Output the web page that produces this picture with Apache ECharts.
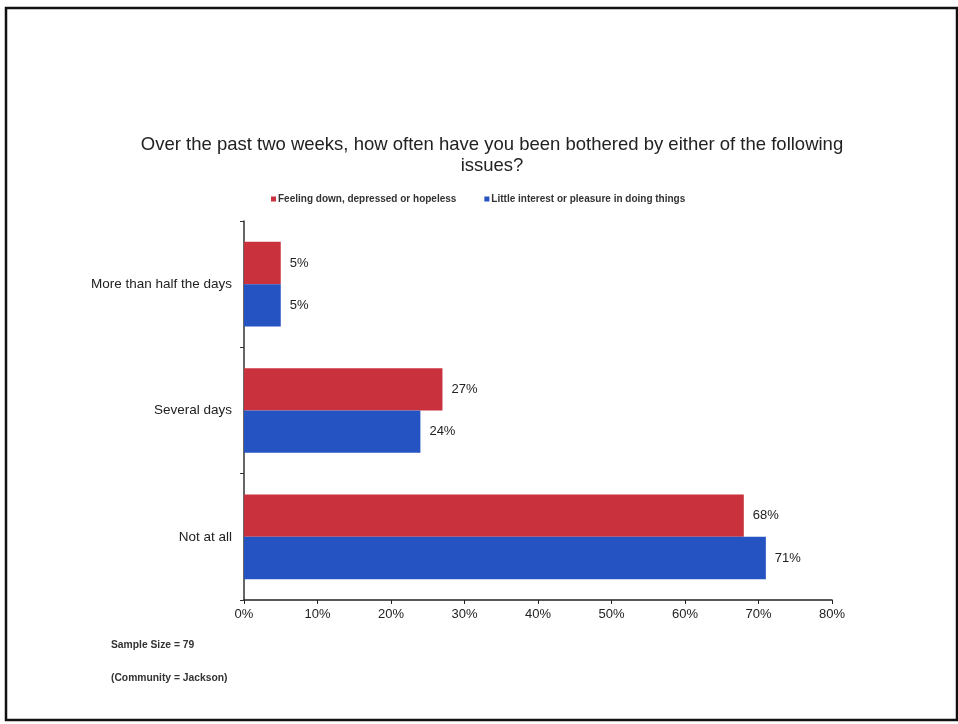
<!DOCTYPE html>
<html>
<head>
<meta charset="utf-8">
<script src="https://cdn.jsdelivr.net/npm/echarts@6/dist/echarts.min.js"></script>
<style>html,body{margin:0;padding:0;background:#fff;}#c{width:958px;height:724px;}</style>
</head>
<body>
<div id="c"></div>
<script>
const categories = ['Not at all', 'Several days', 'More than half the days'];
const seriesNames = ['Feeling down, depressed or hopeless', 'Little interest or pleasure in doing things'];
const feelingDown = [68, 27, 5];
const littleInterest = [71, 24, 5];
const xTicks = { min: 0, max: 80, interval: 10 };
const notes = ['Sample Size = 79', '(Community = Jackson)'];

const chart = echarts.init(document.getElementById('c'), null, { renderer: 'canvas' });
const font = 'Liberation Sans, Arial, sans-serif';
const labelCfg = { show: true, position: 'right', distance: 9, formatter: '{c}%', fontFamily: font, fontSize: 13, color: '#222' };
chart.setOption({
  animation: false,
  backgroundColor: '#fff',
  title: {
    text: 'Over the past two weeks, how often have you been bothered by either of the following\nissues?',
    left: 487, top: 129, textAlign: 'center',
    textStyle: { fontFamily: font, fontSize: 18.5, fontWeight: 'normal', color: '#222', lineHeight: 21 }
  },
  legend: {
    data: seriesNames,
    top: 189, left: 266,
    icon: 'rect', itemWidth: 5, itemHeight: 5, itemGap: 28,
    textStyle: { fontFamily: font, fontSize: 10, fontWeight: 'bold', color: '#333', padding: [0, 0, 0, -3] }
  },
  grid: { left: 244, right: 126, top: 221, bottom: 124, containLabel: false },
  xAxis: {
    type: 'value', min: xTicks.min, max: xTicks.max, interval: xTicks.interval,
    axisLine: { show: true, lineStyle: { color: '#222', width: 1.5 } },
    axisTick: { show: true, length: 4, lineStyle: { color: '#222' } },
    splitLine: { show: false },
    axisLabel: { formatter: '{value}%', fontFamily: font, fontSize: 13, color: '#222', margin: 8 }
  },
  yAxis: {
    type: 'category', data: categories,
    axisLine: { show: true, lineStyle: { color: '#333', width: 1.5 } },
    axisTick: { show: true, length: 4, lineStyle: { color: '#333' } },
    axisLabel: { fontFamily: font, fontSize: 13.5, color: '#222', margin: 12 }
  },
  series: [
    { name: seriesNames[0], type: 'bar', data: feelingDown, itemStyle: { color: '#c9323c' }, barGap: '0%', barCategoryGap: '33%', label: labelCfg },
    { name: seriesNames[1], type: 'bar', data: littleInterest, itemStyle: { color: '#2553c1' }, barGap: '0%', barCategoryGap: '33%', label: labelCfg }
  ],
  graphic: [
    { type: 'rect', shape: { x: 6, y: 8, width: 951, height: 712 }, style: { fill: 'none', stroke: '#111', lineWidth: 2.5 }, silent: true },
    { type: 'text', left: 111, top: 640, style: { text: notes[0], fontFamily: font, fontSize: 10.3, fontWeight: 'bold', fill: '#333' } },
    { type: 'text', left: 111, top: 673, style: { text: notes[1], fontFamily: font, fontSize: 10.3, fontWeight: 'bold', fill: '#333' } }
  ]
});
</script>
</body>
</html>
